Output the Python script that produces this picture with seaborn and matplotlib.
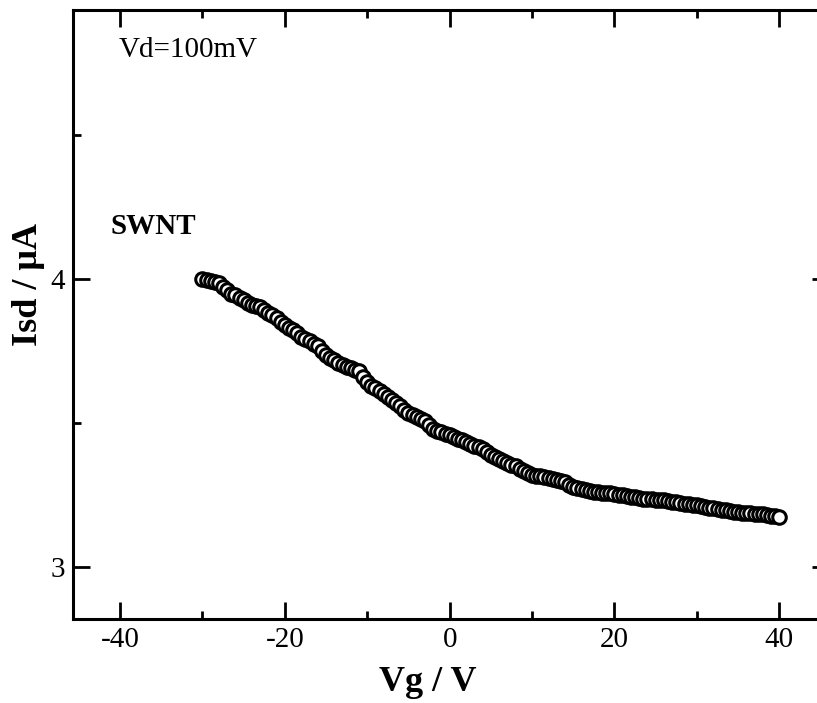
import matplotlib
matplotlib.use("Agg")
import matplotlib.pyplot as plt
from matplotlib.ticker import MultipleLocator
import seaborn as sns
import pandas as pd

# gate sweep, 0.5 V steps
vg = [-30.0, -29.5, -29.0, -28.5, -28.0, -27.5, -27.0, -26.5, -26.0, -25.5,
      -25.0, -24.5, -24.0, -23.5, -23.0, -22.5, -22.0, -21.5, -21.0, -20.5,
      -20.0, -19.5, -19.0, -18.5, -18.0, -17.5, -17.0, -16.5, -16.0, -15.5,
      -15.0, -14.5, -14.0, -13.5, -13.0, -12.5, -12.0, -11.5, -11.0, -10.5,
      -10.0, -9.5, -9.0, -8.5, -8.0, -7.5, -7.0, -6.5, -6.0, -5.5,
      -5.0, -4.5, -4.0, -3.5, -3.0, -2.5, -2.0, -1.5, -1.0, -0.5,
      0.0, 0.5, 1.0, 1.5, 2.0, 2.5, 3.0, 3.5, 4.0, 4.5,
      5.0, 5.5, 6.0, 6.5, 7.0, 7.5, 8.0, 8.5, 9.0, 9.5,
      10.0, 10.5, 11.0, 11.5, 12.0, 12.5, 13.0, 13.5, 14.0, 14.5,
      15.0, 15.5, 16.0, 16.5, 17.0, 17.5, 18.0, 18.5, 19.0, 19.5,
      20.0, 20.5, 21.0, 21.5, 22.0, 22.5, 23.0, 23.5, 24.0, 24.5,
      25.0, 25.5, 26.0, 26.5, 27.0, 27.5, 28.0, 28.5, 29.0, 29.5,
      30.0, 30.5, 31.0, 31.5, 32.0, 32.5, 33.0, 33.5, 34.0, 34.5,
      35.0, 35.5, 36.0, 36.5, 37.0, 37.5, 38.0, 38.5, 39.0, 39.5,
      40.0]
isd = [4.000, 3.997, 3.993, 3.990, 3.985, 3.972, 3.962, 3.950, 3.945, 3.935,
       3.926, 3.918, 3.912, 3.908, 3.902, 3.893, 3.884, 3.874, 3.865, 3.853,
       3.842, 3.831, 3.822, 3.812, 3.800, 3.792, 3.785, 3.776, 3.767, 3.752,
       3.738, 3.727, 3.720, 3.710, 3.702, 3.695, 3.690, 3.686, 3.680, 3.662,
       3.642, 3.630, 3.622, 3.612, 3.602, 3.590, 3.580, 3.570, 3.560, 3.546,
       3.535, 3.527, 3.521, 3.514, 3.508, 3.494, 3.481, 3.473, 3.468, 3.463,
       3.459, 3.452, 3.446, 3.440, 3.434, 3.427, 3.421, 3.416, 3.410, 3.400,
       3.391, 3.384, 3.377, 3.370, 3.362, 3.356, 3.350, 3.342, 3.334, 3.327,
       3.321, 3.318, 3.315, 3.312, 3.310, 3.307, 3.302, 3.298, 3.294, 3.287,
       3.280, 3.275, 3.270, 3.267, 3.264, 3.262, 3.260, 3.259, 3.257, 3.256,
       3.254, 3.251, 3.249, 3.247, 3.245, 3.243, 3.240, 3.238, 3.236, 3.235,
       3.234, 3.234, 3.233, 3.230, 3.227, 3.225, 3.222, 3.220, 3.218, 3.217,
       3.215, 3.212, 3.210, 3.207, 3.205, 3.202, 3.200, 3.197, 3.195, 3.193,
       3.191, 3.189, 3.188, 3.187, 3.186, 3.185, 3.185, 3.182, 3.179, 3.176,
       3.174]

df = pd.DataFrame({'Vg': vg, 'Isd': isd})

sns.set_style("ticks")
plt.rcParams['font.family'] = ['Liberation Serif', 'DejaVu Serif']
plt.rcParams['axes.unicode_minus'] = False
plt.rcParams['text.color'] = 'black'
plt.rcParams['axes.labelcolor'] = 'black'

fig = plt.figure(figsize=(8.17, 7.03), dpi=100)
# axes runs past the right edge of the picture (the original is cropped)
ax = fig.add_axes([0.0894, 0.1195, 0.925, 0.866])

sns.scatterplot(data=df, x='Vg', y='Isd', ax=ax, marker='o', s=95,
                facecolor='white', edgecolor='black', linewidth=2.2, zorder=3)

ax.set_xlim(-45.7, 46.0)
ax.set_ylim(2.82, 4.934)
ax.xaxis.set_major_locator(MultipleLocator(20))
ax.xaxis.set_minor_locator(MultipleLocator(10))
ax.yaxis.set_major_locator(MultipleLocator(1))
ax.yaxis.set_minor_locator(MultipleLocator(0.5))

for s in ax.spines.values():
    s.set_visible(True)
    s.set_linewidth(2.2)
    s.set_color('black')
ax.tick_params(which='both', direction='in', top=True, right=True,
               width=2.0, labelsize=21, colors='black')
ax.tick_params(which='major', length=12, pad=6)
ax.tick_params(which='minor', length=6)

ax.set_xlabel('Vg / V', fontsize=26, fontweight='bold')
ax.set_ylabel('Isd / μA', fontsize=26, fontweight='bold')
ax.xaxis.set_label_coords(0.47, -0.077)
ax.yaxis.set_label_coords(-0.037, 0.55)

ax.text(0.06, 0.935, 'Vd=100mV', transform=ax.transAxes, fontsize=21,
        va='center', ha='left')
ax.text(0.05, 0.645, 'SWNT', transform=ax.transAxes, fontsize=21,
        fontweight='bold', va='center', ha='left')

plt.savefig('out.png', dpi=100)
